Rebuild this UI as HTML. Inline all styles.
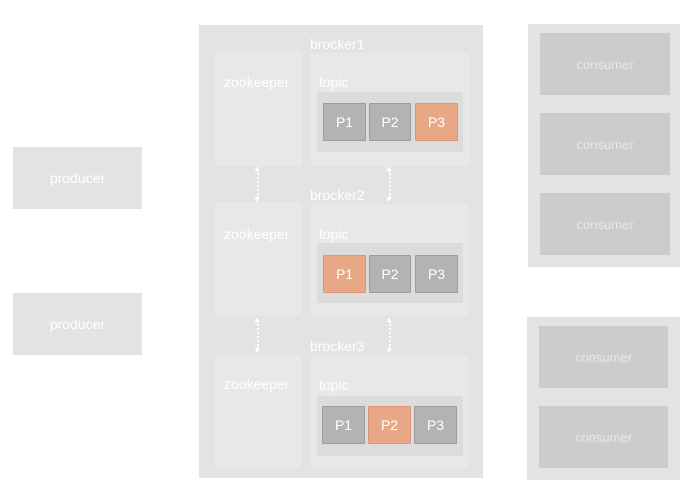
<!DOCTYPE html>
<html><head><style>
body{margin:0;width:680px;height:504px;background:#fff;position:relative;overflow:hidden;font-family:"Liberation Sans",sans-serif;color:#fff}
div{position:absolute;box-sizing:border-box}
.c{display:flex;align-items:center;justify-content:center}
.g{background:#e3e3e3}
.b{background:#e8e8e8}
.in{background:#dcdcdc}
.p{background:#b3b3b3;border:1px solid #9c9c9c;font-size:14px;display:flex;align-items:center;justify-content:center;border-radius:1px}
.o{background:#e9a885;border-color:#d9987a}
.cons{background:#cccccc;color:#e8e8e8;font-size:13px}
.lbl{font-size:14px}
.arr{width:0;border-left:2px dotted #fff}
</style></head><body>
<div class="g c" style="left:13px;top:147px;width:129px;height:62px;font-size:14px">producer</div>
<div class="g c" style="left:13px;top:293px;width:129px;height:62px;font-size:14px">producer</div>

<div class="g" style="left:199px;top:25px;width:284px;height:453px"></div>

<div class="lbl" style="left:310px;top:36px">brocker1</div>
<div class="b" style="left:215px;top:51px;width:87px;height:115px"></div>
<div class="lbl" style="left:224px;top:74px">zookeeper</div>
<div class="b" style="left:311px;top:53px;width:158px;height:113px"></div>
<div class="lbl" style="left:319px;top:74px">topic</div>
<div class="in" style="left:317px;top:92px;width:146px;height:60px"></div>
<div class="p" style="left:323px;top:103px;width:43px;height:38px">P1</div>
<div class="p" style="left:369px;top:103px;width:42px;height:38px">P2</div>
<div class="p o" style="left:415px;top:103px;width:43px;height:38px">P3</div>

<div class="lbl" style="left:310px;top:187px">brocker2</div>
<div class="b" style="left:215px;top:202px;width:86px;height:113px"></div>
<div class="lbl" style="left:224px;top:226px">zookeeper</div>
<div class="b" style="left:311px;top:204px;width:157px;height:111px"></div>
<div class="lbl" style="left:319px;top:226px">topic</div>
<div class="in" style="left:317px;top:243px;width:146px;height:60px"></div>
<div class="p o" style="left:323px;top:255px;width:43px;height:38px">P1</div>
<div class="p" style="left:369px;top:255px;width:42px;height:38px">P2</div>
<div class="p" style="left:415px;top:255px;width:43px;height:38px">P3</div>

<div class="lbl" style="left:310px;top:338px">brocker3</div>
<div class="b" style="left:215px;top:355px;width:86px;height:113px"></div>
<div class="lbl" style="left:224px;top:376px">zookeeper</div>
<div class="b" style="left:311px;top:355px;width:157px;height:113px"></div>
<div class="lbl" style="left:319px;top:377px">topic</div>
<div class="in" style="left:317px;top:396px;width:146px;height:60px"></div>
<div class="p" style="left:322px;top:406px;width:43px;height:38px">P1</div>
<div class="p o" style="left:368px;top:406px;width:43px;height:38px">P2</div>
<div class="p" style="left:414px;top:406px;width:43px;height:38px">P3</div>

<div class="arr" style="left:257px;top:170px;height:28px"></div>
<div class="arr" style="left:389px;top:170px;height:28px"></div>
<div class="arr" style="left:257px;top:321px;height:28px"></div>
<div class="arr" style="left:389px;top:321px;height:28px"></div>
<div style="left:253px;top:165px;font-size:8px;line-height:8px">▲</div>
<div style="left:253px;top:196px;font-size:8px;line-height:8px">▼</div>
<div style="left:385px;top:165px;font-size:8px;line-height:8px">▲</div>
<div style="left:385px;top:196px;font-size:8px;line-height:8px">▼</div>
<div style="left:253px;top:316px;font-size:8px;line-height:8px">▲</div>
<div style="left:253px;top:347px;font-size:8px;line-height:8px">▼</div>
<div style="left:385px;top:316px;font-size:8px;line-height:8px">▲</div>
<div style="left:385px;top:347px;font-size:8px;line-height:8px">▼</div>

<div class="g" style="left:528px;top:24px;width:152px;height:243px"></div>
<div class="cons c" style="left:540px;top:33px;width:130px;height:62px">consumer</div>
<div class="cons c" style="left:540px;top:113px;width:130px;height:62px">consumer</div>
<div class="cons c" style="left:540px;top:193px;width:130px;height:62px">consumer</div>

<div class="g" style="left:527px;top:317px;width:153px;height:163px"></div>
<div class="cons c" style="left:539px;top:326px;width:129px;height:62px">consumer</div>
<div class="cons c" style="left:539px;top:406px;width:129px;height:62px">consumer</div>
</body></html>
